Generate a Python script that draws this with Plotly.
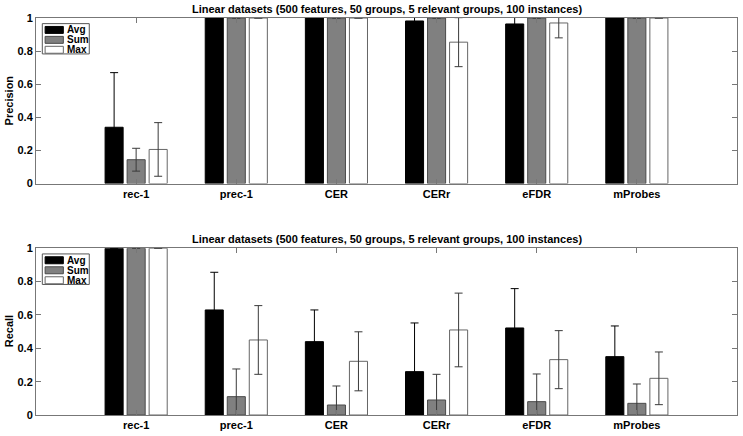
import plotly.graph_objects as go
from plotly.subplots import make_subplots

# categories on the x axis
criteria = ['rec-1', 'prec-1', 'CER', 'CERr', 'eFDR', 'mProbes']
methods = ['Avg', 'Sum', 'Max']

# precision (top panel), mean and +/- std
prec_avg = [0.34, 1.0, 1.0, 0.982, 0.964, 1.0]
prec_avg_err = [0.33, 0.0, 0.0, 0.04, 0.06, 0.0]
prec_sum = [0.144, 1.0, 1.0, 1.0, 1.0, 1.0]
prec_sum_err = [0.069, 0.0, 0.0, 0.0, 0.0, 0.0]
prec_max = [0.206, 1.0, 1.0, 0.854, 0.97, 1.0]
prec_max_err = [0.162, 0.0, 0.0, 0.148, 0.09, 0.0]

# recall (bottom panel)
rec_avg = [1.0, 0.63, 0.44, 0.26, 0.522, 0.35]
rec_avg_err = [0.0, 0.226, 0.19, 0.292, 0.236, 0.184]
rec_sum = [1.0, 0.11, 0.06, 0.09, 0.08, 0.07]
rec_sum_err = [0.0, 0.166, 0.114, 0.154, 0.166, 0.116]
rec_max = [1.0, 0.45, 0.322, 0.51, 0.332, 0.22]
rec_max_err = [0.0, 0.206, 0.177, 0.221, 0.174, 0.158]

yticks = [0, 0.2, 0.4, 0.6, 0.8, 1]
ytick_text = ['0', '0.2', '0.4', '0.6', '0.8', '1']

title_text = 'Linear datasets (500 features, 50 groups, 5 relevant groups, 100 instances)'
ylabels = ['Precision', 'Recall']

fill_colors = {'Avg': '#000000', 'Sum': '#808080', 'Max': '#ffffff'}
edge_colors = {'Avg': '#000000', 'Sum': '#4a4a4a', 'Max': '#666666'}
err_colors = {'Avg': '#000000', 'Sum': '#3a3a3a', 'Max': '#3a3a3a'}

FONT = 'Liberation Sans, Arial, sans-serif'

fig = make_subplots(rows=2, cols=1, vertical_spacing=0.0)

panels = [
    (1, [prec_avg, prec_sum, prec_max], [prec_avg_err, prec_sum_err, prec_max_err]),
    (2, [rec_avg, rec_sum, rec_max], [rec_avg_err, rec_sum_err, rec_max_err]),
]

for row, vals, errs in panels:
    for m, v, e in zip(methods, vals, errs):
        fig.add_trace(go.Bar(
            x=criteria, y=v, name=m, showlegend=False,
            marker=dict(color=fill_colors[m], line=dict(color=edge_colors[m], width=1)),
            error_y=dict(type='data', array=e, visible=True, color=err_colors[m],
                         thickness=1, width=4),
        ), row=row, col=1)

fig.update_layout(
    width=743, height=436,
    margin=dict(l=36, r=5, t=18, b=19),
    paper_bgcolor='white', plot_bgcolor='white',
    barmode='group', bargap=0.34, bargroupgap=0.18,
    font=dict(family=FONT, size=11, color='black'),
)

fig.update_layout(
    yaxis=dict(domain=[0.583, 1.0]),
    yaxis2=dict(domain=[0.0, 0.42]),
)

fig.update_xaxes(
    type='category', range=[-1, 6], showgrid=False,
    showline=True, linecolor='#777777', linewidth=1, mirror='ticks',
    ticks='inside', ticklen=5, tickcolor='#777777',
    tickfont=dict(family=FONT, size=11, color='black', weight='bold'),
)
fig.update_yaxes(
    range=[0, 1], tickvals=yticks, ticktext=ytick_text, showgrid=False, zeroline=False,
    showline=True, linecolor='#777777', linewidth=1, mirror='ticks',
    ticks='inside', ticklen=5, tickcolor='#777777',
    tickfont=dict(family=FONT, size=11, color='black', weight='bold'),
)

# panel titles, y labels and hand-drawn legends (MATLAB style boxes)
for (xa, ya), ylab in zip([('x', 'y'), ('x2', 'y2')], ylabels):
    xd, yd = xa + ' domain', ya + ' domain'
    fig.add_annotation(text='<b>%s</b>' % title_text, xref=xd, yref=yd, x=0.5, y=1.0,
                       yanchor='bottom', yshift=1, showarrow=False,
                       font=dict(family=FONT, size=11, color='black'))
    fig.add_annotation(text='<b>%s</b>' % ylab, xref=xd, yref=yd, x=-0.039, y=0.5,
                       textangle=-90, xanchor='center', yanchor='middle', showarrow=False,
                       font=dict(family=FONT, size=11, color='black'))
    fig.add_shape(type='rect', xref=xd, yref=yd, x0=0.009, x1=0.076, y0=0.783, y1=0.966,
                  line=dict(color='#555555', width=1), fillcolor='white', layer='above')
    for i, m in enumerate(methods):
        yc = 0.928 - i * 0.06
        fig.add_shape(type='rect', xref=xd, yref=yd, x0=0.013, x1=0.039,
                      y0=yc - 0.021, y1=yc + 0.021,
                      line=dict(color=edge_colors[m], width=1), fillcolor=fill_colors[m],
                      layer='above')
        fig.add_annotation(text='<b>%s</b>' % m, xref=xd, yref=yd, x=0.041, y=yc,
                           xanchor='left', yanchor='middle', showarrow=False,
                           font=dict(family=FONT, size=10, color='black'))

# page has a default 8px body margin, drop it so the figure fills the window
fig.write_html('out.html', config={'displayModeBar': False},
               post_script="document.body.style.margin='0px';")
